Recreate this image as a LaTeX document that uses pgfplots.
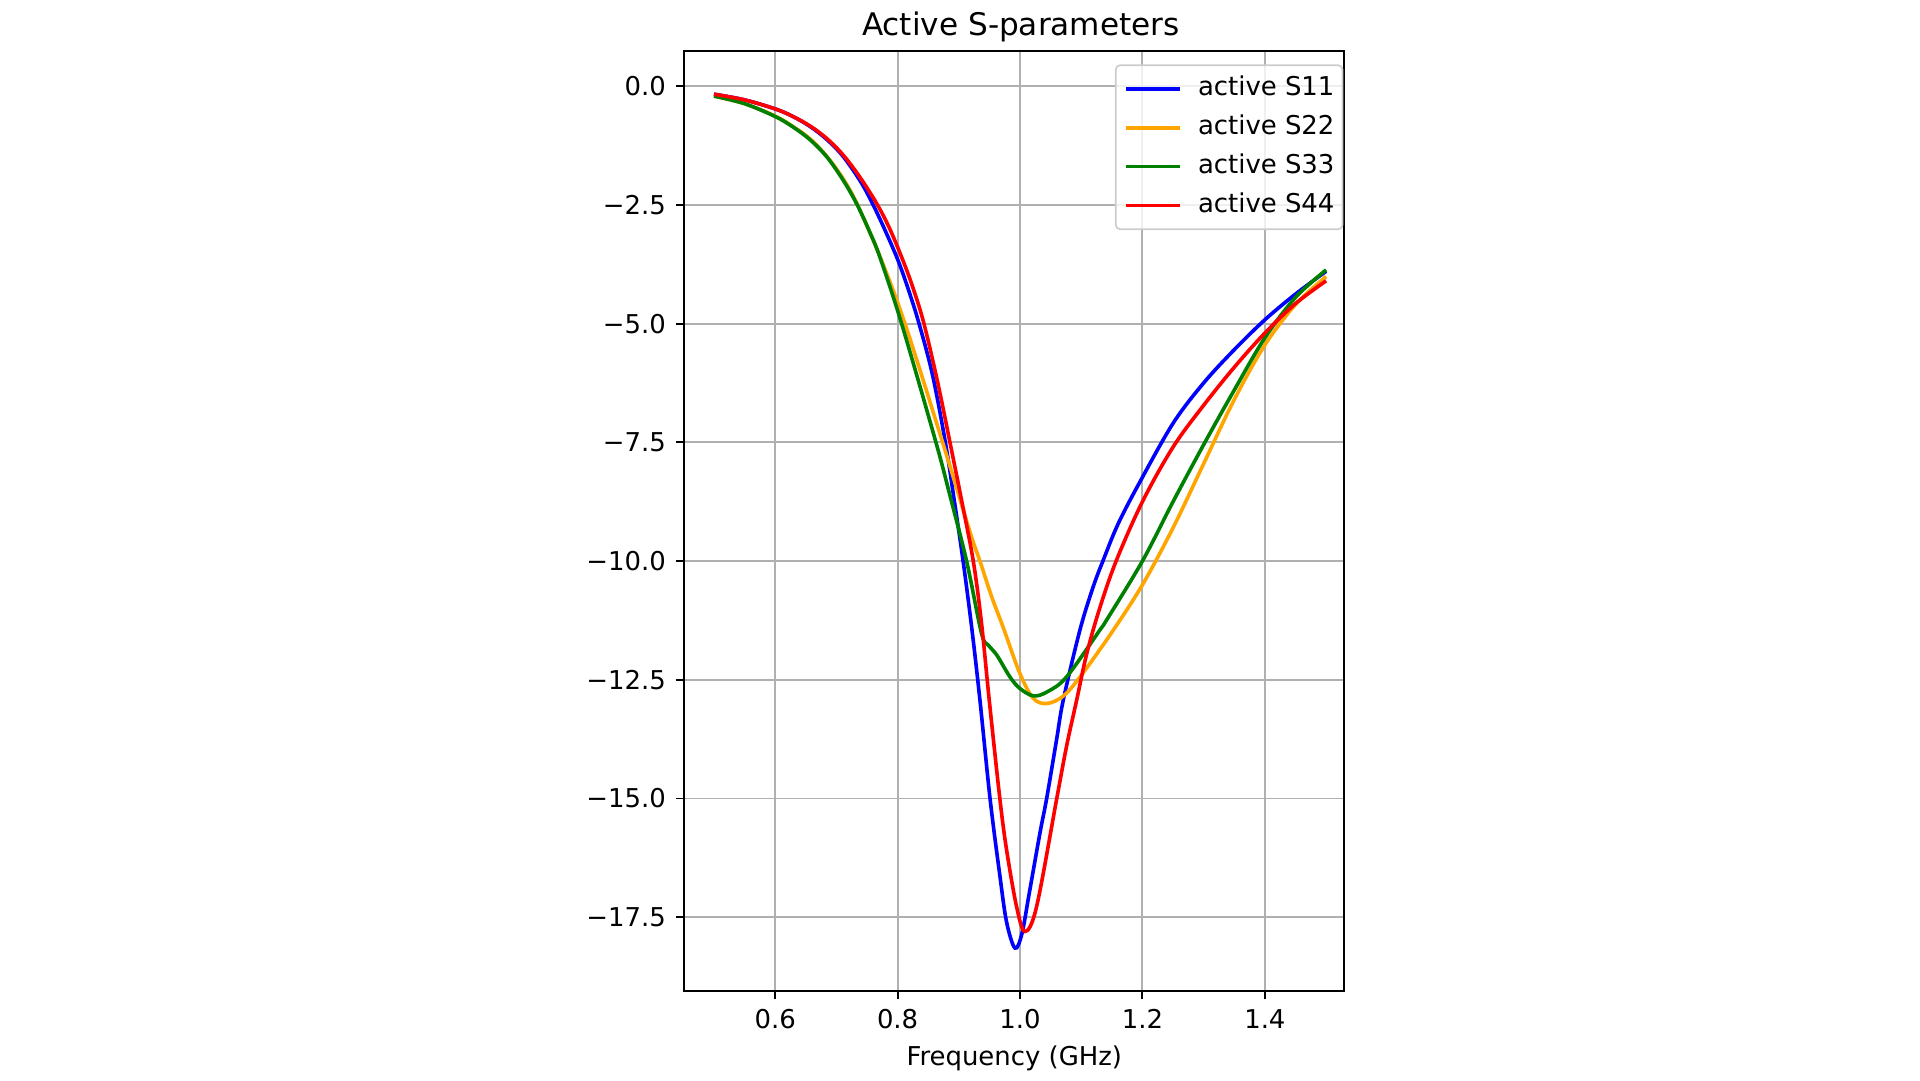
\documentclass[border=0pt]{standalone}
\usepackage{pgfplots}
\pgfplotsset{compat=1.18}
\usepackage{fontspec}
\setmainfont{DejaVu Sans}
\definecolor{mplblue}{RGB}{0,0,255}
\definecolor{mplorange}{RGB}{255,165,0}
\definecolor{mplgreen}{RGB}{0,128,0}
\definecolor{mplred}{RGB}{255,0,0}
\definecolor{gridgray}{RGB}{176,176,176}
\begin{document}
\begin{tikzpicture}
\useasboundingbox (0,0) rectangle (691.2pt,388.8pt);
\begin{axis}[
  at={(246.3pt,32.1pt)}, anchor=south west,
  scale only axis, width=237.7pt, height=338.3pt,
  xmin=0.4513, xmax=1.530, ymin=-19.05, ymax=0.737,
  xtick={0.6,0.8,1.0,1.2,1.4}, xticklabels={0.6,0.8,1.0,1.2,1.4},
  ytick={-17.5,-15,-12.5,-10,-7.5,-5,-2.5,0},
  yticklabels={−17.5,−15.0,−12.5,−10.0,−7.5,−5.0,−2.5,0.0},
  tick align=outside, major tick length=3.06pt,
  tick style={black, line width=0.7pt},
  xtick pos=bottom, ytick pos=left,
  grid=major, grid style={gridgray, line width=0.7pt},
  axis line style={black, line width=0.7pt},
  ticklabel style={font=\fontsize{9.33}{11.2}\selectfont},
  /pgf/number format/assume math mode=true,
  title={Active S-parameters},
  title style={font=\fontsize{11.2}{13.4}\selectfont, at={(axis description cs:0.51,1)}, anchor=base, yshift=-0.2pt},
  xlabel={Frequency (GHz)},
  xlabel style={font=\fontsize{9.33}{11.2}\selectfont, at={(axis description cs:0.5,0)}, anchor=base, yshift=-26.7pt},
  legend cell align=left,
  legend image code/.code={\draw[#1] (0pt,0pt) -- (19.7pt,0pt);},
  legend style={at={(rel axis cs:1,1)}, anchor=north east, xshift=-0.4pt, yshift=-4.8pt,
    font=\fontsize{9.33}{11.2}\selectfont, draw=black!20, line width=0.6pt, rounded corners=1.5pt,
    fill=white, fill opacity=0.8, text opacity=1, inner xsep=2.9pt, inner ysep=4.5pt,
    nodes={inner xsep=0pt, inner ysep=0pt, text height=6.5pt, text depth=1.5pt},
    row sep=6pt, column sep=5.7pt},
  every axis plot/.append style={line width=1.3pt, smooth, tension=0.55},
]
\addplot[mplblue] coordinates {
(0.50,-0.17) (0.55,-0.29) (0.60,-0.48) (0.629,-0.64) (0.657,-0.85) (0.684,-1.12)
(0.711,-1.48) (0.740,-2.02) (0.760,-2.50) (0.780,-3.05) (0.801,-3.68) (0.818,-4.30)
(0.835,-5.0) (0.857,-6.08) (0.878,-7.5) (0.8925,-8.72) (0.907,-10.0) (0.9215,-11.45)
(0.9345,-12.93) (0.951,-15.0) (0.967,-16.62) (0.978,-17.6) (0.9917,-18.15)
(1.003,-17.85) (1.015,-17.0) (1.0325,-15.73) (1.0435,-15.0) (1.0596,-13.77) (1.0706,-12.93)
(1.0979,-11.45) (1.1196,-10.54) (1.136,-9.98) (1.1605,-9.21) (1.196,-8.33) (1.25,-7.1)
(1.30,-6.25) (1.35,-5.55) (1.40,-4.92) (1.45,-4.38) (1.50,-3.9)
};
\addlegendentry{active S11}
\addplot[mplorange] coordinates {
(0.50,-0.21) (0.55,-0.37) (0.60,-0.63) (0.629,-0.85) (0.657,-1.11) (0.685,-1.49)
(0.712,-1.97) (0.7345,-2.5) (0.7725,-3.63) (0.812,-5.0) (0.8735,-7.5) (0.918,-9.38)
(0.9345,-10.0) (0.9536,-10.75) (0.9726,-11.4) (0.9995,-12.36) (1.0216,-12.89) (1.0435,-13.0)
(1.070,-12.85) (1.098,-12.44) (1.15,-11.5) (1.20,-10.5) (1.25,-9.3) (1.30,-7.95)
(1.35,-6.6) (1.40,-5.45) (1.45,-4.6) (1.50,-4.01)
};
\addlegendentry{active S22}
\addplot[mplgreen] coordinates {
(0.50,-0.21) (0.55,-0.37) (0.60,-0.64) (0.629,-0.86) (0.657,-1.13) (0.685,-1.50)
(0.712,-2.00) (0.734,-2.5) (0.7547,-3.08) (0.771,-3.60) (0.8065,-5.0) (0.8626,-7.5)
(0.8855,-8.62) (0.9127,-10.0) (0.937,-11.52) (0.948,-11.77) (0.962,-11.98) (0.9835,-12.44)
(0.9995,-12.68) (1.022,-12.84) (1.045,-12.75) (1.076,-12.44) (1.1306,-11.45) (1.1415,-11.24)
(1.20,-10.0) (1.25,-8.75) (1.30,-7.55) (1.35,-6.4) (1.40,-5.3) (1.45,-4.45) (1.50,-3.87)
};
\addlegendentry{active S33}
\addplot[mplred] coordinates {
(0.50,-0.17) (0.55,-0.29) (0.60,-0.48) (0.629,-0.64) (0.657,-0.84) (0.684,-1.10)
(0.711,-1.45) (0.738,-1.91) (0.7657,-2.47) (0.787,-3.0) (0.809,-3.68) (0.826,-4.28)
(0.843,-5.0) (0.865,-6.21) (0.8855,-7.5) (0.9045,-8.72) (0.9236,-10.0) (0.937,-11.3)
(0.9497,-12.93) (0.967,-15.0) (0.978,-16.08) (0.9944,-17.28) (1.008,-17.8)
(1.027,-17.28) (1.06,-15.0) (1.076,-13.9) (1.0925,-12.93) (1.109,-11.95) (1.13,-11.0)
(1.157,-10.0) (1.20,-8.75) (1.25,-7.6) (1.30,-6.72) (1.35,-5.92) (1.40,-5.2)
(1.45,-4.58) (1.50,-4.10)
};
\addlegendentry{active S44}
\end{axis}
\end{tikzpicture}
\end{document}
